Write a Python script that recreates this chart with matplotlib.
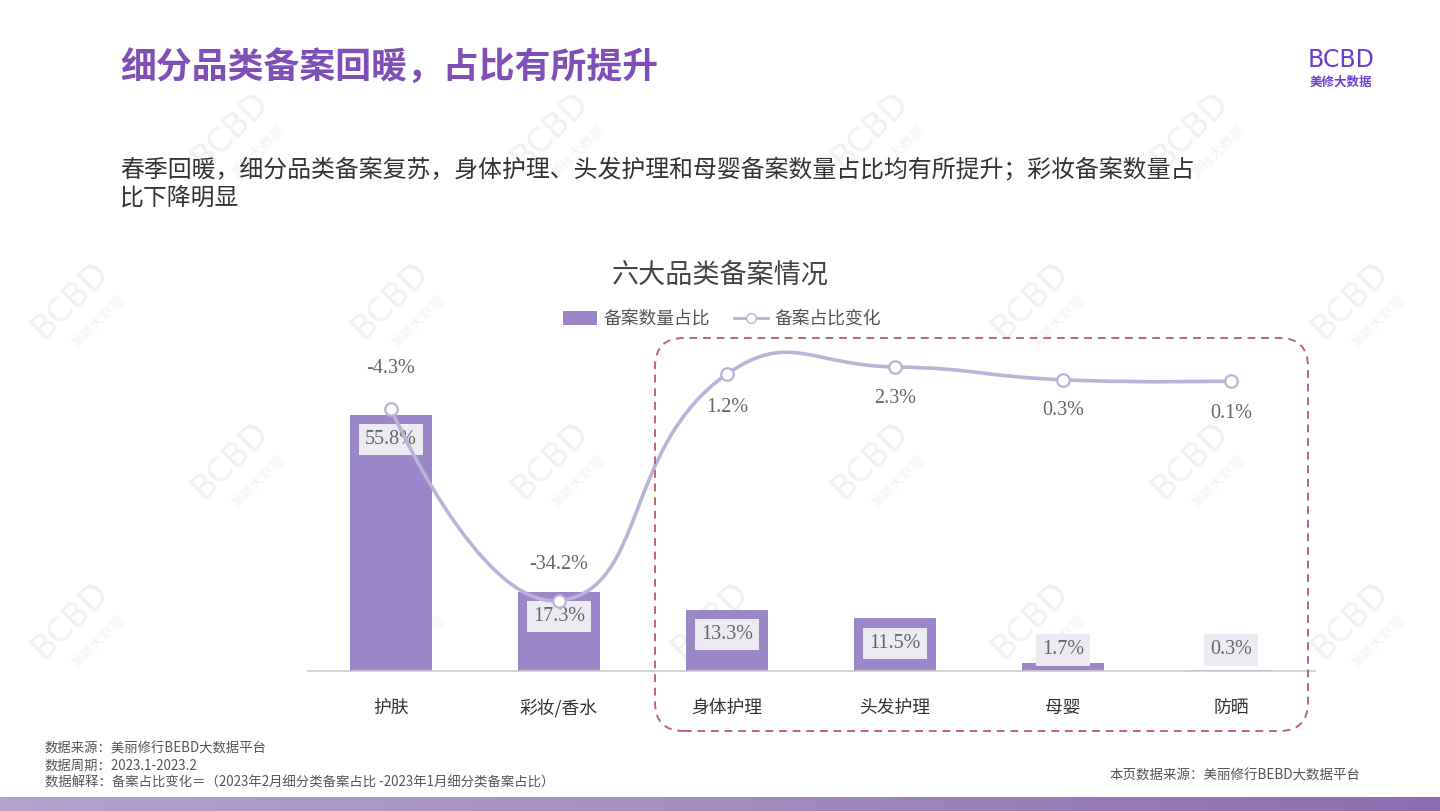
import numpy as np
import matplotlib
matplotlib.use("Agg")
import matplotlib.pyplot as plt
from matplotlib.path import Path
from matplotlib.patches import PathPatch, FancyBboxPatch, Rectangle
from matplotlib.lines import Line2D
from matplotlib.colors import LinearSegmentedColormap

plt.rcParams['font.family'] = ['Noto Sans CJK SC', 'DejaVu Sans']

categories = ["护肤", "彩妆/香水", "身体护理", "头发护理", "母婴", "防晒"]
share = [55.8, 17.3, 13.3, 11.5, 1.7, 0.3]           # 备案数量占比 (%)
change = [-4.3, -34.2, 1.2, 2.3, 0.3, 0.1]           # 备案占比变化 (%)
line_label_offsets = [29, 26, -24, -23, -22, -23]    # points, + above / - below

W, H = 1440, 811
fig = plt.figure(figsize=(W / 100, H / 100), dpi=100)
fig.patch.set_facecolor("white")

def fx(px):
    return px / W

def fy(py):
    return 1 - py / H

# ---- watermarks (background axes) ----
wax = fig.add_axes([0, 0, 1, 1], zorder=-5)
wax.set_xlim(0, W)
wax.set_ylim(H, 0)
wax.axis("off")
wm_pos = [(230, 130), (550, 130), (870, 130), (1190, 130),
          (70, 300), (390, 300), (1030, 300), (1350, 300),
          (230, 460), (550, 460), (870, 460), (1190, 460),
          (70, 620), (390, 620), (710, 620), (1030, 620), (1350, 620)]
for (px, py) in wm_pos:
    wax.text(px, py, "BCBD", rotation=45, fontsize=24, color="#f1f1f1",
             ha="center", va="center", family=["DejaVu Sans"])
    wax.text(px + 28, py + 22, "美修大数据", rotation=45, fontsize=10,
             color="#f1f1f1", ha="center", va="center")

# ---- headers ----
fig.text(fx(120), fy(68), "细分品类备案回暖，占比有所提升", fontsize=25.8, fontweight="bold",
         color="#7f4fb5", ha="left", va="center")
fig.text(fx(1341), fy(60), "BCBD", fontsize=17, color="#6a3fd0", ha="center", va="center",
         family=["DejaVu Sans"])
fig.text(fx(1341), fy(82), "美修大数据", fontsize=9, fontweight="bold", color="#6a3fd0",
         ha="center", va="center")
fig.text(fx(120), fy(170), "春季回暖，细分品类备案复苏，身体护理、头发护理和母婴备案数量占比均有所提升；彩妆备案数量占",
         fontsize=17.2, color="#333333", ha="left", va="center")
fig.text(fx(120), fy(198), "比下降明显", fontsize=17.2, color="#333333", ha="left", va="center")

fig.text(fx(720), fy(275), "六大品类备案情况", fontsize=19.5, color="#444444", ha="center", va="center")

# ---- main axes ----
x0_px, x1_px = 308, 1315
top_px, base_px = 340, 671
ax = fig.add_axes([fx(x0_px), fy(base_px), (x1_px - x0_px) / W, (base_px - top_px) / H])
ax.patch.set_alpha(0)
step = 168.0
bar_ppu = 4.59
xs = np.arange(len(categories))
ax.set_xlim((x0_px - 391) / step, (x1_px - 391) / step)
ax.set_ylim(0, (base_px - top_px) / bar_ppu)
bar_color = "#9b87c7"
ax.bar(xs, share, width=82 / step, color=bar_color, zorder=2)
for s in ["top", "right", "left"]:
    ax.spines[s].set_visible(False)
ax.spines["bottom"].set_color("#cccccc")
ax.spines["bottom"].set_linewidth(1.2)
ax.set_yticks([])
ax.set_xticks(xs)
ax.set_xticklabels(categories, fontsize=12.8, color="#333333")
ax.tick_params(axis="x", length=0, pad=20)

for xi, v in zip(xs, share):
    ly = max(v - 25 / bar_ppu, 21 / bar_ppu)
    ax.text(xi, ly, f"{v}%", ha="center", va="center", fontsize=14.5, color="#666666",
            family=["Liberation Serif"], zorder=5,
            bbox=dict(boxstyle="square,pad=0.3", fc="#ecebf3", ec="none"))

# ---- line axis ----
ax2 = ax.twinx()
line_ppu = 6.4
zero_px = 381.7
ax2.set_ylim(-(base_px - zero_px) / line_ppu, (zero_px - top_px) / line_ppu)
ax2.set_yticks([])
for s in ax2.spines.values():
    s.set_visible(False)
line_color = "#b9b3d6"

# smooth path (Catmull-Rom style control points, computed in pixel-scaled space)
P = np.column_stack([xs * step, np.array(change) * line_ppu])
n = len(P)
smooth = 0.5
cps = []
for i in range(n):
    if i == 0 or i == n - 1:
        cps.append((P[i], P[i]))
        continue
    v = (P[i + 1] - P[i - 1]) * smooth
    d0 = np.linalg.norm(P[i] - P[i - 1])
    d1 = np.linalg.norm(P[i + 1] - P[i])
    cps.append((P[i] - v * d0 / (d0 + d1), P[i] + v * d1 / (d0 + d1)))
verts = [P[0]]
codes = [Path.MOVETO]
for i in range(n - 1):
    verts += [cps[i][1], cps[i + 1][0], P[i + 1]]
    codes += [Path.CURVE4] * 3
verts = np.array(verts) / np.array([step, line_ppu])
ax2.add_patch(PathPatch(Path(verts, codes), fc="none", ec=line_color, lw=2.6, zorder=3))
ax2.plot(xs, change, "o", ms=9, mfc="white", mec=line_color, mew=1.6, zorder=4)
for xi, v, off in zip(xs, change, line_label_offsets):
    ax2.annotate(f"{v}%", (xi, v), xytext=(0, off), textcoords="offset points",
                 ha="center", va="center", fontsize=14.5, color="#666666",
                 family=["Liberation Serif"])

# ---- legend ----
handles = [Rectangle((0, 0), 1, 1, fc=bar_color, ec="none"),
           Line2D([0], [0], color=line_color, lw=2, marker="o", ms=7, mfc="white", mec=line_color)]
fig.legend(handles, ["备案数量占比", "备案占比变化"], loc="center", bbox_to_anchor=(fx(722), fy(319)),
           ncol=2, frameon=False, fontsize=12.8, labelcolor="#555555", handlelength=1.9,
           handleheight=0.8, columnspacing=1.4, handletextpad=0.35)

# ---- red dashed rounded box ----
box = FancyBboxPatch((fx(655), fy(731)), fx(1308) - fx(655), fy(338) - fy(731),
                     boxstyle="round,pad=0,rounding_size=0.02", transform=fig.transFigure,
                     fc="none", ec="#c0646e", lw=1.4, ls=(0, (4, 3)), mutation_aspect=W / H)
fig.patches.append(box)

# ---- footnotes ----
fs = 9.6
fig.text(fx(45), fy(749), "数据来源：美丽修行BEBD大数据平台", fontsize=fs, color="#555555", va="center")
fig.text(fx(45), fy(766), "数据周期：2023.1-2023.2", fontsize=fs, color="#555555", va="center")
fig.text(fx(45), fy(783), "数据解释：备案占比变化＝（2023年2月细分类备案占比 -2023年1月细分类备案占比）",
         fontsize=fs, color="#555555", va="center")
fig.text(fx(1360), fy(776), "本页数据来源：美丽修行BEBD大数据平台", fontsize=9.7, color="#555555",
         va="center", ha="right")

# ---- bottom gradient bar ----
bax = fig.add_axes([0, 0, 1, 14 / H])
bax.axis("off")
grad = np.linspace(0, 1, 256).reshape(1, -1)
cmap = LinearSegmentedColormap.from_list("g", ["#b3a3cf", "#a48cc0", "#8d6db0"])
bax.imshow(grad, aspect="auto", cmap=cmap, extent=(0, 1, 0, 1))

fig.savefig("out.png", dpi=100, facecolor="white")
